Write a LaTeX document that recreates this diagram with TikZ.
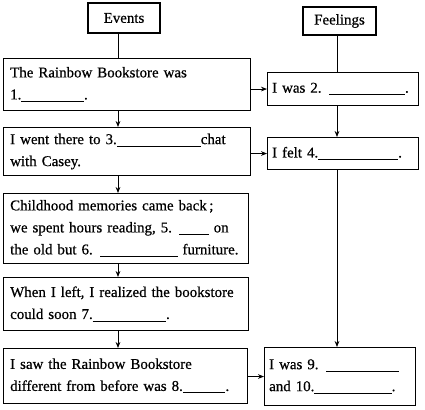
\documentclass[tikz,border=0pt]{standalone}
\usepackage{fontspec}
\setmainfont{Liberation Serif}[FakeBold=0.6]
\usetikzlibrary{positioning,arrows.meta}
\newcommand{\gap}[1]{\underline{\hspace{#1}}}

\begin{document}
\begin{tikzpicture}[
    x=0.75pt, y=-0.75pt,
    >={Stealth[length=4.5pt,width=3.5pt]},
    every node/.style={font=\fontsize{11.2}{16.5}\selectfont},
    head/.style={draw, line width=0.8pt, inner sep=0pt, align=center},
    box/.style={draw, line width=0.8pt, anchor=north west, inner xsep=5pt, inner ysep=0pt, align=left, text width=#1},
    fbox/.style={box=106.25pt, inner xsep=3.5pt}
]
\useasboundingbox (0,0) rectangle (425,410);
\coordinate (lspine) at (118,0);
\coordinate (rspine) at (337,0);
% headings
\node[head, minimum width=54pt, minimum height=22.5pt] (ev) at (124,18) {Events};
\node[head, minimum width=54.75pt, minimum height=21pt] (fe) at (339.5,21) {Feelings};
% events column
\node[box=175.25pt, minimum height=39pt] (b1) at (3,58) {The Rainbow Bookstore was\\1.\gap{47pt}.};
\node[box=175.25pt, minimum height=36pt] (b3) at (3,127) {I went there to 3.\gap{63pt}chat\\with Casey.};
\node[box=173.75pt, minimum height=52.5pt] (b5) at (3,193) {Childhood memories came back\,;\\we spent hours reading, 5. \gap{22pt} on\\the old but 6. \gap{58pt} furniture.};
\node[box=173.75pt, minimum height=39.75pt] (b6) at (3,277) {When I left, I realized the bookstore\\could soon 7.\gap{55pt}.};
\node[box=173pt, minimum height=41.25pt] (b7) at (3,348) {I saw the Rainbow Bookstore\\different from before was 8.\gap{32pt}.};
% feelings column
\node[fbox, minimum height=24.75pt] (f2) at (267,72) {I was 2. \gap{57pt}.};
\node[fbox, minimum height=24pt] (f4) at (267,137) {I felt 4.\gap{60pt}.};
\node[fbox, minimum height=43.5pt] (f8) at (264,347) {I was 9. \gap{55pt}\\and 10.\gap{58pt}.};
% connectors
\draw[line width=0.6pt] (ev.south -| lspine) -- (b1.north -| lspine);
\draw[line width=0.6pt] (fe.south -| rspine) -- (f2.north -| rspine);
\draw[->, line width=0.6pt] (b1.south -| lspine) -- (b3.north -| lspine);
\draw[->, line width=0.6pt] (b3.south -| lspine) -- (b5.north -| lspine);
\draw[->, line width=0.6pt] (b5.south -| lspine) -- (b6.north -| lspine);
\draw[->, line width=0.6pt] (b6.south -| lspine) -- (b7.north -| lspine);
\draw[->, line width=0.6pt] (f2.south -| rspine) -- (f4.north -| rspine);
\draw[->, line width=0.6pt] (f4.south -| rspine) -- (f8.north -| rspine);
\draw[->, line width=0.6pt] (b1.east |- f2) -- (f2.west);
\draw[->, line width=0.6pt] (b3.east |- f4) -- (f4.west);
\draw[->, line width=0.6pt] (b7.east |- f8) -- (f8.west);
\end{tikzpicture}
\end{document}
